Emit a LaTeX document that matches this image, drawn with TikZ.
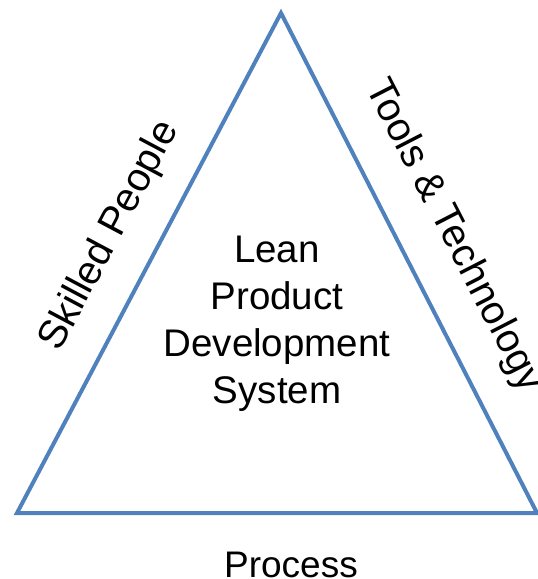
\documentclass[tikz,border=0pt]{standalone}
\usepackage{fontspec}
\setmainfont{Liberation Sans}
\definecolor{edgeblue}{HTML}{4F81BD}
\begin{document}
\begin{tikzpicture}[x=1pt,y=-1pt,
  edge/.style={draw=edgeblue,line width=4pt,line join=miter},
  lbl/.style={inner sep=0pt,font=\fontsize{38.5}{47}\selectfont,text=black},
  side/.style={inner sep=0pt,font=\fontsize{40}{48}\selectfont,text=black}]
\useasboundingbox (0,0) rectangle (538,579);
\coordinate (apex) at (281,13);
\coordinate (bl) at (17,513);
\coordinate (br) at (537,513);
\draw[edge] (apex) -- (bl) -- (br) -- cycle;
\node[lbl,align=center] (centre) at (277,324) {Lean\\Product\\Development\\System};
\node[side,rotate=62] (people) at (110,236) {Skilled People};
\node[side,rotate=-62.8] (tools) at (453,236) {Tools \& Technology};
\node[lbl,anchor=base,font=\fontsize{37}{47}\selectfont] (process) at (291,577) {Process};
\end{tikzpicture}
\end{document}
